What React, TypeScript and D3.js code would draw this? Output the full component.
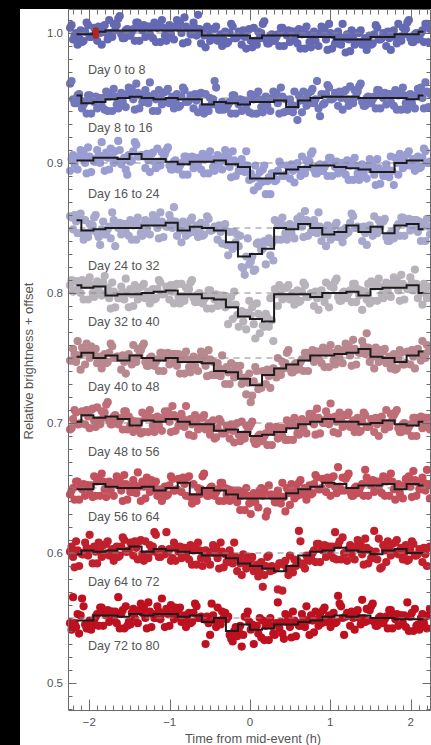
import React from "react";
import * as d3 from "d3";

// ---- Data -------------------------------------------------------------
// Ten 8-day windows of a folded light curve, each shifted down by 0.05.
const windowLabels = [
  "Day 0 to 8", "Day 8 to 16", "Day 16 to 24", "Day 24 to 32", "Day 32 to 40",
  "Day 40 to 48", "Day 48 to 56", "Day 56 to 64", "Day 64 to 72", "Day 72 to 80",
];
const windowOffsets = [1.0, 0.95, 0.9, 0.85, 0.8, 0.75, 0.7, 0.65, 0.6, 0.55];

// Individual measurements, parts per thousand from each window's offset.
// Two interleaved passes per window, 120 samples each, across -2.25 h .. +2.25 h.
const flux0to8 = [
  4,-5,0,-4, -7,1,6,-3, 4,-6,0,5, 0,10,-3,2, 11,-1,-4,3, -2,3,8,-6, 2,-3,5,5, 8,4,-7,4,
  -6,6,4,5, 4,0,12,-7, -1,8,-2,3, 2,-11,-1,3, 3,-6,-1,-5, -8,0,5,-4, 1,-9,-3,2, -6,4,-9,-4,
  7,-5,-8,-1, -6,-1,4,-10, -2,-7,1,1, 3,-1,-12,-1, -11,1,-1,0, -1,-5,7,-12, -8,1,-9,-4,
  -1,-14,-4,0, 0,-9,-4,-8, -9,-1,4,-5, 0,-10,-4,1, -3,7,-6,-1, 8,-4,-7,0, -3,2,7,-7,
];
const flux0to8b = [
  6,-2,-9,2, -6,8,-3,-2, 3,5,-9,6, -5,0,7,6, 13,-4,2,-2, 1,-6,8,4, 6,5,-1,-4, -7,7,10,-2,
  3,-1,-5,10, 8,-8,5,3, -1,4,14,-8, -2,5,-6,-4, 5,-3,-10,1, -7,7,-4,-3, 0,2,-12,3, -11,-6,1,0,
  9,-8,-2,-6, -3,-10,4,0, 2,1,-5,-8, -12,2,5,-7, -2,-6,-10,5, 3,-13,0,-2, -8,-3,7,-15,
  -5,2,-9,-7, 2,-6,-13,-2, -8,6,-5,-4, -1,1,-13,2, -8,-3,4,3, 10,-7,-1,-5, 0,-7,7,3,
];
const flux8to16 = [
  11,-1,-4,3, -8,-3,2,-12, -3,-8,0,0, 5,1,-10,1, -8,4,2,3, 3,-1,11,-8, -3,6,-4,1, 3,-10,0,4,
  5,-4,1,-3, -7,1,6,-3, 2,-8,-2,3, -7,3,-10,-5, 13,-6,-9,-9, -8,-3,2,-12, -5,-10,-2,-2, 3,-1,-12,-1,
  -11,1,-1,0, 0,-4,8,-11, -10,-1,-11,-6, 2,-11,-1,3, 5,-4,13,-14, -5,3,8,-1, 4,-6,0,5,
  -1,9,-4,1, 9,-3,-6,1, -4,1,6,-8, 0,-5,3,3, 6,2,-9,2, -9,3,1,2, 4,0,12,-7,
];
const flux8to16b = [
  13,-4,2,-2, -5,-12,2,-2, 1,0,-6,-9, -10,4,7,-5, 1,-3,-7,8, 7,-9,4,2, -3,2,12,-10, -1,6,-5,-3,
  7,-1,-8,3, -6,8,-3,-2, 1,3,-11,4, -12,-7,0,-1, 8,-9,-3,-7, -5,-12,2,-2, -1,-2,-8,-11, -12,2,5,-7,
  -2,-6,-10,5, 4,-12,1,-1, -10,-5,5,-17, -2,5,-6,-4, 7,-1,-8,3, -4,10,-1,0, 3,5,-9,6,
  -6,-1,6,5, 11,-6,0,-4, -1,-8,6,2, 4,3,-3,-6, -9,5,8,-4, 0,-4,-8,7, 8,-8,5,3,
];
const flux16to24 = [
  -6,6,4,5, 4,0,12,-7, 1,10,0,5, 8,-5,5,9, 17,-1,4,-9, 1,9,14,5, 6,-4,2,7, 1,11,-2,3,
  10,-2,-5,2, -5,0,5,-9, 1,-4,4,4, 7,3,-8,3, -6,6,4,5, 1,-3,9,-10, -6,3,-7,-2, -8,-21,-11,-7,
  -5,-24,-11,-8, -14,-6,-1,-10, -2,-12,-6,-1, -5,5,-8,-3, 7,-5,-8,-1, -6,-1,4,-10, -3,-8,0,0,
  2,-2,-13,-2, -13,-1,-3,-2, -5,-9,3,-16, -10,-1,-11,-6, 4,-9,1,5, 7,-2,3,-1, -4,4,9,0,
];
const flux16to24b = [
  3,-1,-5,10, 8,-8,5,3, 1,6,16,-6, 4,11,0,2, 10,2,-5,6, 2,16,5,6, 5,7,-7,8, -4,1,8,7,
  12,-5,1,-3, -2,-9,5,1, 5,4,-2,-5, -8,6,9,-3, 3,-1,-5,10, 5,-11,2,0, -6,-1,9,-13, -12,-2,-18,-15,
  -2,-14,-24,-8, -13,1,-10,-9, -3,-1,-15,0, -10,-5,2,1, 9,-8,-2,-6, -3,-10,4,0, 1,0,-6,-9,
  -13,1,4,-8, -4,-8,-12,3, -1,-17,-4,-6, -10,-5,5,-17, 0,7,-4,-2, 9,1,-6,5, -3,11,0,1,
];
const flux24to32 = [
  9,-1,5,10, -4,6,-7,-2, 8,-4,-13,5, -4,1,12,-14, 0,-5,3,3, 6,2,-9,2, -6,6,4,5, 4,0,12,-7,
  1,10,0,5, 2,-11,-1,3, 6,-3,2,-2, -6,2,7,-2, 1,-9,-3,2, -13,-3,-16,-11, -14,-30,-36,-8, -26,-33,-12,-13,
  -16,-28,-8,-12, 6,2,-9,2, -9,3,1,2, 5,1,13,-6, -3,6,-4,1, -1,-14,-4,0, 2,-7,-2,-6,
  -4,4,9,0, 0,-10,-4,1, -1,9,-4,1, 5,-7,-10,-3, -2,3,8,-6, 3,-2,6,6, 5,1,-10,1,
];
const flux24to32b = [
  8,10,-4,11, -9,-4,3,2, 10,-7,-1,-5, -1,-8,6,2, 4,3,-3,-6, -9,5,8,-4, 3,-1,-5,10, 8,-8,5,3,
  1,6,16,-6, -2,5,-6,-4, 8,0,-7,4, -5,9,-2,-1, 0,2,-12,3, -21,-14,-3,-5, -6,-31,-22,-28, -22,-32,-11,-17,
  -10,-11,-21,-25, -9,5,8,-4, 0,-4,-8,7, 9,-7,6,4, -3,2,12,-10, -5,2,-9,-7, 4,-4,-11,0,
  -3,11,0,1, -1,1,-13,2, -6,-1,6,5, 7,-10,-4,-8, 1,-6,8,4, 7,6,0,-3, -10,4,7,-5,
];
const flux32to40 = [
  6,1,9,9, 10,6,-5,6, -3,9,7,8, 0,-4,8,-11, -4,5,-5,0, 3,-10,0,4, 5,-4,1,-3, -5,3,8,-1,
  5,-5,1,6, -3,7,-6,-1, 8,-4,-7,0, -8,-3,2,-12, -5,-10,-2,-2, -5,-9,-20,-9, -26,-14,-16,-15, -17,-24,-8,-31,
  -25,-16,-26,-21, 3,-10,0,4, 4,-5,0,-4, -7,1,6,-3, 0,-10,-4,1, -2,8,-11,6, 9,-3,-6,1,
  -3,2,7,-7, -2,-13,1,7, 9,5,-6,5, -4,8,6,7, 6,2,14,-5, 3,12,2,7, 4,-9,1,5,
];
const flux32to40b = [
  10,9,3,0, -5,9,12,0, 6,2,-2,13, 4,-12,1,-1, -4,1,11,-11, -1,6,-5,-3, 7,-1,-8,3, -4,10,-1,0,
  4,6,-8,7, -8,-3,4,3, 10,-7,-1,-5, -5,-12,2,-2, -1,-2,-8,-11, -24,-3,1,-17, -16,-22,-28,-6, -11,-35,-16,-18,
  -26,-19,-4,-37, -1,6,-5,-3, 6,-2,-9,2, -6,8,-3,-2, -1,1,-13,2, -7,-2,5,4, 11,-6,0,-4,
  0,-7,7,3, 2,1,-5,-8, -6,8,11,-1, 5,1,-3,12, 10,-6,7,5, 3,8,18,-4, 0,7,-4,-2,
];
const flux40to48 = [
  -2,7,-3,2, 8,-5,5,9, 5,-4,1,-3, -4,4,9,0, 1,-9,-3,2, 0,10,-3,2, 9,-3,-6,1, -6,-1,4,-10,
  0,-5,3,3, 3,-1,-12,-1, -11,1,-1,0, -2,-6,6,-13, -13,-4,-14,-9, -7,-20,-10,-6, -11,-20,-15,-19, -34,-18,-10,-22,
  -10,-20,-14,-9, -10,0,-13,-8, 4,-8,-11,-4, -6,-1,4,-10, 2,-3,5,5, 8,4,-7,4, -5,7,5,6,
  6,2,14,-5, 4,13,3,8, 5,-8,2,6, 5,-4,1,-3, -9,-1,4,-5, 5,-5,1,6, 3,13,0,5,
];
const flux40to48b = [
  -2,3,13,-9, 4,11,0,2, 7,-1,-8,3, -3,11,0,1, 0,2,-12,3, -5,0,7,6, 11,-6,0,-4, -3,-10,4,0,
  4,3,-3,-6, -12,2,5,-7, -2,-6,-10,5, 2,-14,-1,-3, -13,-8,2,-20, -11,-4,-15,-13, -6,-18,-28,-12, -29,-7,-24,-23,
  -11,-9,-23,-8, -15,-10,-3,-4, 6,-11,-5,-9, -3,-10,4,0, 6,5,-1,-4, -7,7,10,-2, 4,0,-4,11,
  10,-6,7,5, 4,9,19,-3, 1,8,-3,-1, 7,-1,-8,3, -8,6,-5,-4, 4,6,-8,7, -2,3,10,9,
];
const flux48to56 = [
  -5,3,8,-1, 9,-1,5,10, 2,12,-1,4, 14,2,-1,6, -1,4,9,-5, -2,-7,1,1, 8,4,-7,4, -7,5,3,4,
  5,1,13,-6, -2,7,-3,2, 3,-10,0,4, 4,-5,0,-4, -12,-4,1,-8, -2,-12,-6,-1, -9,1,-12,-7, -1,-13,-16,-9,
  -13,-8,-3,-17, -7,-12,-4,-4, 2,-2,-13,-2, -9,3,1,2, 3,-1,11,-8, 0,9,-1,4, 5,-8,2,6,
  6,-3,2,-2, -7,1,6,-3, 3,-7,-1,4, 0,10,-3,2, 8,-4,-7,0, -6,-1,4,-10, 1,-4,4,4,
];
const flux48to56b = [
  -4,10,-1,0, 8,10,-4,11, -3,2,9,8, 16,-1,5,1, 2,-5,9,5, 2,1,-5,-8, -7,7,10,-2, 2,-2,-6,9,
  9,-7,6,4, -2,3,13,-9, -1,6,-5,-3, 6,-2,-9,2, -11,3,-8,-7, -3,-1,-15,0, -14,-9,-2,-3, 1,-16,-10,-14,
  -10,-17,-3,-7, -3,-4,-10,-13, -13,1,4,-8, 0,-4,-8,7, 7,-9,4,2, 0,5,15,-7, 1,8,-3,-1,
  8,0,-7,4, -6,8,-3,-2, 2,4,-10,5, -5,0,7,6, 10,-7,-1,-5, -3,-10,4,0, 5,4,-2,-5,
];
const flux56to64 = [
  -5,0,5,-9, -1,-6,2,2, 9,5,-6,5, -7,5,3,4, 2,-2,10,-9, -3,6,-4,1, 5,-8,2,6, 3,-6,-1,-5,
  -6,2,7,-2, 7,-3,3,8, -7,3,-10,-5, 9,-3,-6,1, -6,-1,4,-10, -5,-10,-2,-2, -2,-6,-17,-6, -20,-4,-6,-2,
  -6,-22,2,-5, -11,-2,-12,-7, 0,-13,-3,1, 4,-5,0,-4, -5,3,8,-1, 7,-3,3,8, 1,16,-2,-2,
  9,-3,-6,1, -2,3,14,-6, 2,-3,5,5, 9,5,-6,5, -9,3,1,2, 5,1,13,-6, -1,8,-2,3,
];
const flux56to64b = [
  -2,-9,5,1, 3,2,-4,-7, -6,8,11,-1, 2,-2,-6,9, 6,-10,3,1, -3,2,12,-10, 1,8,-3,-1, 5,-3,-10,1,
  -5,9,-2,-1, 6,8,-6,9, -12,-7,0,-1, 11,-6,0,-4, -3,-10,4,0, -1,-2,-8,-11, -17,-3,0,-12, -7,-11,-15,0,
  -2,-18,-5,-7, -11,-6,4,-18, -4,3,-8,-6, 6,-2,-9,2, -4,10,-1,0, 6,8,-6,9, -4,1,8,7,
  11,-6,0,-4, 1,-6,8,4, 6,5,-1,-4, -6,8,11,-1, 0,-4,-8,7, 9,-7,6,4, -1,4,14,-8,
];
const flux64to72 = [
  1,-3,9,-10, -1,8,-2,3, 5,-8,2,6, 7,-2,3,-1, -3,5,10,1, 8,-2,4,9, -1,9,-4,1, 16,0,-3,0,
  16,3,-4,-6, 1,-4,4,4, 6,2,-9,2, -10,2,0,1, 0,-4,8,-11, -7,2,-8,-3, -4,-17,-7,-3, -5,-14,-9,-13,
  -26,-10,-2,-10, -11,-28,-8,-9, -12,-2,-15,-10, 17,-9,-12,-4, -3,2,7,-7, 2,-3,5,5, 16,6,-5,0,
  -6,6,4,5, 3,-1,11,-8, -4,17,-5,-12, 6,-7,3,7, 8,-1,4,0, -6,2,7,-2, 3,-7,-1,4,
];
const flux64to72b = [
  5,-11,2,0, -1,4,14,-8, 1,8,-3,-1, 9,1,-6,5, -2,12,1,2, 7,9,-5,10, -6,-1,6,5, 14,-3,3,-1,
  1,-6,8,4, 5,4,-2,-5, -9,5,8,-4, -1,-5,-9,6, 4,-12,1,-1, -7,-2,8,-14, -8,-1,-12,-10, -3,-11,-18,-7,
  -17,-3,-14,-13, -11,-8,-29,-6, -17,-12,-5,-6, 9,-8,-2,-6, 0,-7,7,3, 6,5,-1,-4, -5,9,12,0,
  3,-1,-5,10, 7,-9,4,2, -4,1,11,-11, 2,9,-2,0, 10,2,-5,6, -5,9,-2,-1, 2,4,-10,5,
];
const flux72to80 = [
  -4,16,-7,-12, 15,-5,-8,-9, -2,3,8,-6, 2,-3,5,5, 16,3,-8,-6, -5,7,5,6, 4,0,12,-7, 0,9,-1,4,
  7,-6,4,8, 6,-3,2,-2, -4,4,9,0, 0,-20,-4,11, -2,8,-5,0, -1,-13,-18,-7, -9,-22,1,5, -9,-20,-6,0,
  -2,-6,-17,-6, -13,12,-3,-16, -3,-7,5,-14, -6,3,-7,-2, 2,-11,-1,3, 6,-3,2,-2, -4,17,9,-13,
  4,-6,0,5, 0,14,-3,-2, 9,-3,-6,1, -4,1,6,-8, -1,-6,2,2, 12,1,-10,-6, -9,3,1,2,
];
const flux72to80b = [
  -9,-4,3,2, 9,-8,-2,-6, 1,-6,8,4, 6,5,-1,-4, -8,6,9,-3, 4,0,-4,11, 8,-8,5,3, 0,5,15,-7,
  3,10,-1,1, 8,0,-7,4, -3,11,0,1, -1,1,-13,2, -7,-2,5,4, 1,-16,-10,-14, -6,-13,1,-3, -5,-6,-12,-15,
  -17,-3,0,-12, -4,-8,-12,3, 1,-15,-2,-4, -6,-1,9,-13, -2,5,-6,-4, 8,0,-7,4, -3,11,0,1,
  3,5,-9,6, -5,0,7,6, 11,-6,0,-4, -1,-8,6,2, 3,2,-4,-7, -10,4,7,-5, 0,-4,-8,7,
];

// Binned means (0.15 h bins from -2.25 h), parts per thousand.
const binned0to8 = [-1,-1,1,2,2,2,2,2,2,2,2,-2,-2,-2,-2,-4,-2,-2,-2,-3,-3,-3,-5,-5,-5,-3,-3,-1,-1,1];
const binned8to16 = [2,-4,-3,-1,0,1,0,-1,0,-1,-1,-5,-3,-4,-5,-3,-3,-2,-7,-2,0,1,1,1,0,0,0,0,-1,2];
const binned16to24 = [2,2,4,4,3,7,3,3,1,-1,1,1,2,-1,-3,-12,-12,-8,-5,-3,-2,-2,-3,-4,-5,-7,-7,0,2,2];
const binned24to32 = [6,-2,-1,0,0,0,2,2,4,-2,1,0,-2,-11,-22,-20,-16,0,-1,3,0,-5,-3,2,-3,1,-4,2,3,-1];
const binned32to40 = [6,4,5,-2,-1,-1,0,1,2,-1,-1,-4,-5,-11,-18,-20,-22,-1,-1,-1,-3,0,0,1,-2,3,4,4,6,0];
const binned40to48 = [1,4,0,2,-2,2,0,-2,0,-3,-3,-4,-10,-11,-16,-21,-13,-8,-5,-2,2,2,3,4,7,1,0,-3,2,5];
const binned48to56 = [1,6,4,5,3,-2,2,1,3,1,-1,-1,-6,-5,-7,-10,-9,-7,-4,-1,1,3,1,1,-1,0,2,-1,-2,1];
const binned56to64 = [-1,-1,3,1,0,0,1,-2,0,4,-5,0,-2,-5,-8,-8,-8,-8,-4,-1,1,4,3,0,2,2,3,-1,3,2];
const binned64to72 = [-1,2,1,2,3,5,1,3,2,1,0,-2,-2,-4,-8,-10,-12,-14,-10,-2,1,2,4,2,1,-1,2,3,0,0];
const binned72to80 = [-2,-2,2,2,1,3,2,3,3,1,2,-3,0,-10,-5,-9,-8,-5,-5,-3,-2,1,2,1,2,0,0,-1,-1,-1];

const fluxPassA = [
  flux0to8, flux8to16, flux16to24, flux24to32, flux32to40,
  flux40to48, flux48to56, flux56to64, flux64to72, flux72to80,
];
const fluxPassB = [
  flux0to8b, flux8to16b, flux16to24b, flux24to32b, flux32to40b,
  flux40to48b, flux48to56b, flux56to64b, flux64to72b, flux72to80b,
];
const binnedSeries = [
  binned0to8, binned8to16, binned16to24, binned24to32, binned32to40,
  binned40to48, binned48to56, binned56to64, binned64to72, binned72to80,
];

// Typical single-point uncertainty, drawn as a bar on the first window.
const errorBarTime = -1.92;
const errorBarHalf = 0.0045;

const xMajorTicks = [-2, -1, 0, 1, 2];
const yMajorTicks = [0.5, 0.6, 0.7, 0.8, 0.9, 1.0];

// ---- Styling / layout --------------------------------------------------
const W = 431;
const H = 745;
const PANEL_X = 20;
const PANEL_Y = 9;
const LEFT = 68.5;
const RIGHT = 430.5;
const TOP = 9.5;
const BOTTOM = 710.5;

const pointColors = [
  "#6569b3", "#7377bc", "#9a9dd2", "#a7a8cb", "#b8b3ba",
  "#b8888e", "#bf6e78", "#c4505c", "#c21f2d", "#be101f",
];
const labelDy = [37, 30, 31, 38, 29, 29, 29, 29, 29, 28];
const FONT = "'Liberation Sans', Arial, Helvetica, sans-serif";
const AXIS_COLOR = "#6b6b6b";
const TEXT_COLOR = "#555";

const x = d3.scaleLinear().domain([-2.26, 2.26]).range([68.5, 431.5]);
const y = d3.scaleLinear().domain([0.5, 1.0]).range([683, 33]);

const N_SAMPLES = 120;
const CADENCE = 4.5 / N_SAMPLES;
const timesA = d3.range(N_SAMPLES).map((j) => -2.25 + (j + 0.25) * CADENCE);
const timesB = d3.range(N_SAMPLES).map((j) => -2.25 + (j + 0.75) * CADENCE);
const BIN_WIDTH = 0.15;
const STEP_EXTENT = 2.16;

const fmtTick = (v: number) => (v < 0 ? "\u2212" + Math.abs(v) : String(v));

export default function App() {
  const stepLine = d3
    .line<[number, number]>()
    .x((d) => x(d[0]))
    .y((d) => y(d[1]))
    .curve(d3.curveStepAfter);

  const xMinor = d3.range(-22, 23).map((k) => k / 10);
  const yMinor = d3.range(48, 102).map((k) => k / 100);

  return (
    <div style={{ position: "absolute", left: 0, top: 0 }}>
      <svg width={W} height={H} style={{ display: "block" }} fontFamily={FONT}>
        <rect x={0} y={0} width={W} height={H} fill="#000" />
        <rect x={PANEL_X} y={PANEL_Y} width={W - PANEL_X} height={H - PANEL_Y} fill="#fff" />

        {binnedSeries.map((bins, i) => {
          const base = windowOffsets[i];
          const pts: [number, number][] = bins.map((v, k) => [
            Math.max(-STEP_EXTENT, -2.25 + k * BIN_WIDTH),
            base + v / 1000,
          ]);
          pts.push([STEP_EXTENT, base + bins[bins.length - 1] / 1000]);
          const samples: [number, number][] = [];
          fluxPassA[i].forEach((v, j) => {
            samples.push([timesA[j], v]);
            samples.push([timesB[j], fluxPassB[i][j]]);
          });
          return (
            <g key={windowLabels[i]}>
              {samples.map(([t, v], j) => (
                <circle
                  key={j}
                  cx={x(t)}
                  cy={y(base + v / 1000)}
                  r={4.1}
                  fill={pointColors[i]}
                />
              ))}
              <line
                x1={LEFT}
                x2={RIGHT}
                y1={y(base)}
                y2={y(base)}
                stroke="#8a8a8a"
                strokeWidth={1}
                strokeDasharray="6 5"
              />
              <path d={stepLine(pts) ?? ""} fill="none" stroke="#1c1c1c" strokeWidth={2} />
              <text
                x={88}
                y={y(base) + labelDy[i]}
                dominantBaseline="central"
                fontSize={12.6}
                fill={TEXT_COLOR}
              >
                {windowLabels[i]}
              </text>
            </g>
          );
        })}

        <rect
          x={x(errorBarTime) - 3}
          y={y(1 + errorBarHalf)}
          width={6}
          height={y(1 - errorBarHalf) - y(1 + errorBarHalf)}
          rx={2.5}
          fill="#b3261e"
        />

        {/* frame */}
        <g stroke={AXIS_COLOR} strokeWidth={1} fill="none">
          <line x1={LEFT} x2={LEFT} y1={TOP} y2={BOTTOM} />
          <line x1={RIGHT} x2={RIGHT} y1={TOP} y2={BOTTOM} />
          <line x1={LEFT} x2={RIGHT} y1={BOTTOM} y2={BOTTOM} />
          <line x1={LEFT} x2={RIGHT} y1={TOP} y2={TOP} />
          {xMinor.map((t) => {
            const major = xMajorTicks.includes(Math.round(t * 10) / 10);
            const len = major ? 11 : 5;
            const px = Math.round(x(t)) + 0.5;
            return (
              <g key={"xt" + t}>
                <line x1={px} x2={px} y1={BOTTOM} y2={BOTTOM - len} />
                <line x1={px} x2={px} y1={TOP} y2={TOP + len} />
              </g>
            );
          })}
          {yMinor.map((v) => {
            const major = yMajorTicks.some((m) => Math.abs(m - v) < 1e-9);
            const len = major ? 8 : 4;
            const py = Math.round(y(v)) + 0.5;
            return (
              <g key={"yt" + v}>
                <line x1={LEFT} x2={LEFT + len} y1={py} y2={py} />
                <line x1={RIGHT} x2={RIGHT - len} y1={py} y2={py} />
              </g>
            );
          })}
        </g>

        {yMajorTicks.map((v) => (
          <text
            key={"yl" + v}
            x={63}
            y={y(v)}
            textAnchor="end"
            dominantBaseline="central"
            fontSize={11.5}
            fill={TEXT_COLOR}
          >
            {v.toFixed(1)}
          </text>
        ))}
        {xMajorTicks.map((t) => (
          <text
            key={"xl" + t}
            x={x(t)}
            y={722}
            textAnchor="middle"
            dominantBaseline="central"
            fontSize={11.5}
            fill={TEXT_COLOR}
          >
            {fmtTick(t)}
          </text>
        ))}

        <text
          x={x(0) + 3}
          y={738}
          textAnchor="middle"
          dominantBaseline="central"
          fontSize={12.8}
          fill={TEXT_COLOR}
        >
          Time from mid-event (h)
        </text>
        <text
          transform={`translate(28, 361) rotate(-90)`}
          textAnchor="middle"
          dominantBaseline="central"
          fontSize={13}
          fill={TEXT_COLOR}
        >
          Relative brightness + offset
        </text>
      </svg>
    </div>
  );
}
